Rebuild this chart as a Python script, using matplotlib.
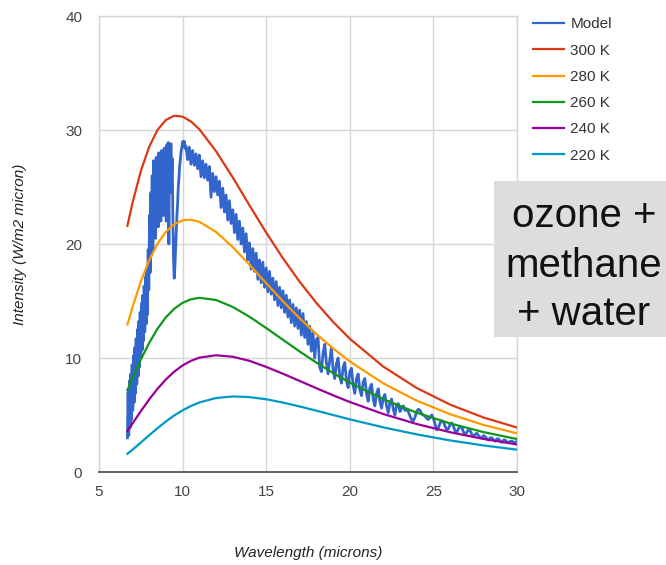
import numpy as np
import matplotlib
matplotlib.use("Agg")
import matplotlib.pyplot as plt
from matplotlib.patches import Rectangle

plt.rcParams['font.family'] = ['Liberation Sans', 'DejaVu Sans']

# ---- blackbody curves ----
wl_bb = [6.7, 7, 7.5, 8, 8.5, 9, 9.5, 10, 10.5, 11, 12, 13, 14, 15, 16, 17, 18, 19, 20, 22, 24, 26, 28, 30]
bb_300 = [21.60, 23.59, 26.38, 28.52, 30.01, 30.88, 31.25, 31.17, 30.75, 30.07, 28.14, 25.84, 23.39, 21.00,
          18.75, 16.69, 14.83, 13.17, 11.69, 9.25, 7.37, 5.91, 4.78, 3.90]
bb_280 = [12.94, 14.44, 16.71, 18.57, 20.03, 21.07, 21.74, 22.08, 22.13, 21.95, 21.06, 19.73, 18.18, 16.56,
          14.98, 13.48, 12.10, 10.84, 9.70, 7.78, 6.26, 5.07, 4.13, 3.39]
bb_260 = [7.18, 8.21, 9.86, 11.32, 12.57, 13.57, 14.32, 14.84, 15.15, 15.28, 15.09, 14.48, 13.62, 12.63,
          11.60, 10.57, 9.60, 8.68, 7.84, 6.39, 5.20, 4.26, 3.50, 2.89]
bb_240 = [3.60, 4.25, 5.33, 6.36, 7.30, 8.12, 8.80, 9.35, 9.75, 10.03, 10.24, 10.11, 9.75, 9.22,
          8.62, 7.99, 7.35, 6.73, 6.14, 5.09, 4.21, 3.49, 2.90, 2.42]
bb_220 = [1.60, 1.95, 2.58, 3.22, 3.84, 4.43, 4.96, 5.41, 5.79, 6.10, 6.49, 6.63, 6.57, 6.38,
          6.09, 5.75, 5.38, 5.00, 4.62, 3.92, 3.30, 2.77, 2.33, 1.96]

# ---- model spectrum ----
model_wl_fine = np.round(6.70 + 0.04 * np.arange(87), 2)      # 6.70 .. 10.14
model_fine = [
    3.0, 7.0, 3.2, 8.0, 3.9, 8.6, 4.6, 9.4, 5.4, 10.2,
    6.1, 10.9, 6.9, 11.7, 7.7, 12.5, 8.4, 13.2, 9.2, 14.0,
    10.0, 14.8, 10.7, 15.5, 11.5, 16.3, 12.3, 17.1, 13.0, 17.8,
    13.8,
    19.5, 16.0, 22.5, 17.5, 24.5, 19.0, 26.0, 19.5, 27.3, 21.0,
    26.5, 20.5, 27.6, 22.0, 27.0, 21.5, 28.0, 23.0, 27.5, 22.0,
    28.2, 23.5, 27.0, 22.5, 28.4, 24.0, 27.8, 22.0, 28.7, 25.0,
    28.9, 20.0, 28.5, 24.5, 28.8, 26.0, 27.5, 22.0, 18.5, 17.0,
    18.0, 19.5, 21.0, 22.5, 23.5, 25.0, 25.8, 26.8, 27.3, 28.0,
    28.4, 28.7, 29.0, 28.6, 29.0, 28.4,
]
model_wl_coarse = np.round(10.2 + 0.1 * np.arange(199), 1)    # 10.2 .. 30.0
model_coarse = [
    28.6, 27.4, 28.5, 27.0, 28.2, 26.9, 27.9, 26.6, 27.8, 25.9,
    27.3, 25.8, 27.0, 25.6, 26.8, 24.1, 26.2, 24.6, 25.9, 24.3,
    25.5, 23.2, 24.9, 22.8, 24.3, 22.1, 23.8, 21.8, 23.0, 21.0,
    22.6, 20.4, 22.0, 20.0, 21.4, 19.3, 20.9, 18.6, 20.1, 17.8,
    19.6, 17.6, 19.2, 16.9, 18.6, 16.6, 18.4, 16.2, 17.9, 15.8,
    17.6, 15.6, 17.0, 15.1, 16.7, 14.6, 16.2, 14.4, 15.9, 14.0,
    15.5, 13.6, 15.1, 13.1, 14.7, 12.8, 14.4, 12.6, 14.2, 12.0,
    13.9, 11.8, 13.2, 11.2, 12.8, 10.6, 12.2, 10.0, 11.6,
    11.8, 9.2, 8.8, 10.4, 11.2, 9.6, 8.6, 9.8, 10.9, 9.0,
    8.2, 9.5, 10.0, 8.4, 7.8, 9.2, 9.6, 8.0, 7.4, 8.8,
    9.1, 7.6, 6.9, 8.2, 8.6, 7.2, 6.7, 7.9, 8.2, 6.9,
    6.2, 7.4, 7.7, 6.4, 5.8, 6.9, 7.3, 6.2, 5.6, 6.5,
    6.8, 5.8, 5.2, 6.1, 6.4, 5.5, 5.0, 5.9, 6.0, 5.3,
    5.6, 5.8, 5.4, 5.5, 5.3, 4.9, 4.6, 4.5, 4.8, 5.3,
    5.5, 5.4, 5.1, 5.0, 4.9, 4.7, 4.6, 4.8, 5.0, 4.7,
    4.2, 3.7, 3.9, 4.3, 4.5, 4.4, 4.0, 3.7, 3.8, 4.2,
    4.3, 4.0, 3.6, 3.5, 3.8, 4.0, 3.9, 3.5, 3.3, 3.5,
    3.7, 3.6, 3.3, 3.1, 3.3, 3.4, 3.2, 3.0, 3.0, 3.2,
    3.1, 2.9, 2.8, 3.0, 3.0, 2.8, 2.7, 2.9, 2.9, 2.7,
    2.6, 2.8, 2.8, 2.6, 2.6, 2.7, 2.7, 2.6, 2.6, 2.7,
]

labels = ['Model', '300 K', '280 K', '260 K', '240 K', '220 K']
colors = ['#3366cc', '#dc3912', '#ff9900', '#109618', '#990099', '#0099c6']
x_ticks = [5, 10, 15, 20, 25, 30]
y_ticks = [0, 10, 20, 30, 40]
note_lines = ['ozone +', 'methane', '+ water']

W, H = 666, 565
fig = plt.figure(figsize=(W / 100, H / 100), dpi=100)
ax = fig.add_axes([99 / W, 1 - 472 / H, (517 - 99) / W, (472 - 16) / H])

model_wl = np.concatenate([model_wl_fine, model_wl_coarse])
model = np.array(model_fine + model_coarse)
ax.plot(model_wl, model, color=colors[0], lw=2.0, label=labels[0], zorder=2,
        solid_joinstyle='round')
for ys, c, lab in zip([bb_300, bb_280, bb_260, bb_240, bb_220], colors[1:], labels[1:]):
    ax.plot(wl_bb, ys, color=c, lw=1.6, label=lab, zorder=3)

ax.set_xlim(5, 30)
ax.set_ylim(0, 40)
ax.set_xticks(x_ticks)
ax.set_yticks(y_ticks)
ax.grid(True, color='#d6d6d6', lw=1.0, zorder=0)
ax.set_axisbelow(True)
for s in ['left', 'right', 'top']:
    ax.spines[s].set_color('#d6d6d6')
    ax.spines[s].set_linewidth(1.0)
ax.spines['bottom'].set_color('#555555')
ax.spines['bottom'].set_linewidth(1.3)
ax.tick_params(axis='both', length=0, labelsize=11, labelcolor='#444444')
ax.tick_params(axis='x', pad=9)
ax.tick_params(axis='y', pad=12)

ax.set_xlabel('Wavelength (microns)', fontsize=11, style='italic', color='#222222')
ax.xaxis.set_label_coords(0.5, (472 - 553) / 456)
ax.xaxis.label.set_va('center')
ax.set_ylabel('Intensity (W/m2 micron)', fontsize=11, style='italic', color='#222222')
ax.yaxis.set_label_coords((20 - 99) / 418, 0.5)
ax.yaxis.label.set_va('center')

leg = ax.legend(loc='upper left', bbox_to_anchor=(533 / W, 1 - 17.5 / H),
                bbox_transform=fig.transFigure, frameon=False, borderpad=0,
                borderaxespad=0, handlelength=2.0, handletextpad=0.45,
                labelspacing=0.80, fontsize=11)
for t in leg.get_texts():
    t.set_color('#333333')
for ln in leg.get_lines():
    ln.set_linewidth(1.6)

fig.add_artist(Rectangle((494 / W, 1 - 337 / H), (W - 494) / W + 0.01, 156 / H,
                         transform=fig.transFigure, facecolor='#dddde0',
                         edgecolor='none', zorder=5))
for line, yb in zip(note_lines, [227, 277, 325]):
    fig.text(584 / W, 1 - yb / H, line, ha='center', va='baseline',
             fontsize=29, color='#111111', zorder=6)

fig.savefig('out.png', dpi=100)
